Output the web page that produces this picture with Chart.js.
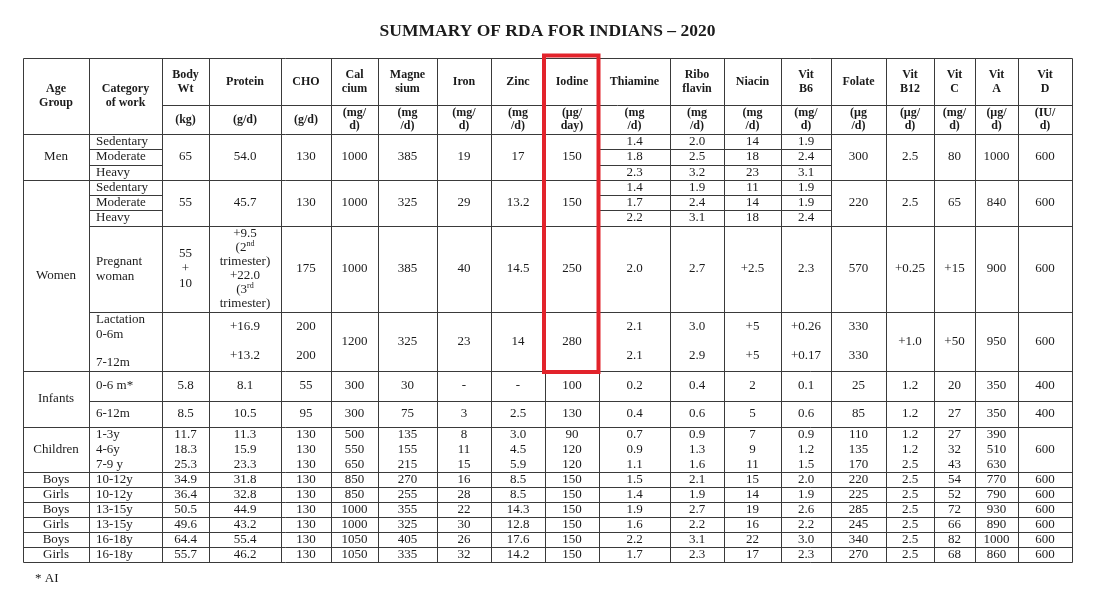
<!DOCTYPE html>
<html>
<head>
<meta charset="utf-8">
<script src="https://cdn.jsdelivr.net/npm/chart.js@4.4.0/dist/chart.umd.min.js"></script>
<style>
  html, body { margin: 0; background: #fff; }
  canvas { display: block; }
</style>
</head>
<body>
<canvas id="rda" width="1097" height="601"></canvas>
<script>
// table text
const chartTitle = "SUMMARY OF RDA FOR INDIANS – 2020";
const footNote = "* AI";
const headCorner = ["Age\nGroup", "Category\nof work"];
const nutrients = ["Body\nWt", "Protein", "CHO", "Cal\ncium", "Magne\nsium", "Iron", "Zinc", "Iodine",
  "Thiamine", "Ribo\nflavin", "Niacin", "Vit\nB6", "Folate", "Vit\nB12", "Vit\nC", "Vit\nA", "Vit\nD"];
const units = ["(kg)", "(g/d)", "(g/d)", "(mg/\nd)", "(mg\n/d)", "(mg/\nd)", "(mg\n/d)", "(µg/\nday)",
  "(mg\n/d)", "(mg\n/d)", "(mg\n/d)", "(mg/\nd)", "(µg\n/d)", "(µg/\nd)", "(mg/\nd)", "(µg/\nd)", "(IU/\nd)"];

const ageGroups = ["Men", "Women", "Infants", "Children", "Boys", "Girls", "Boys", "Girls", "Boys", "Girls"];
const ageGroupSpans = [1, 3, 2, 1, 1, 1, 1, 1, 1, 1];

const workLevels = ["Sedentary", "Moderate", "Heavy"];
const childAges = ["1-3y", "4-6y", "7-9 y"];

// one entry per nutrient; a list means the cell is split into sub rows
const men = ["65", "54.0", "130", "1000", "385", "19", "17", "150",
  ["1.4", "1.8", "2.3"], ["2.0", "2.5", "3.2"], ["14", "18", "23"], ["1.9", "2.4", "3.1"],
  "300", "2.5", "80", "1000", "600"];
const women = ["55", "45.7", "130", "1000", "325", "29", "13.2", "150",
  ["1.4", "1.7", "2.2"], ["1.9", "2.4", "3.1"], ["11", "14", "18"], ["1.9", "1.9", "2.4"],
  "220", "2.5", "65", "840", "600"];
const pregnant = ["55\n+\n10", "+9.5\n(2^nd\ntrimester)\n+22.0\n(3^rd\ntrimester)", "175", "1000", "385", "40", "14.5", "250",
  "2.0", "2.7", "+2.5", "2.3", "570", "+0.25", "+15", "900", "600"];
const lactation = ["", ["+16.9", "+13.2"], ["200", "200"], "1200", "325", "23", "14", "280",
  ["2.1", "2.1"], ["3.0", "2.9"], ["+5", "+5"], ["+0.26", "+0.17"], ["330", "330"], "+1.0", "+50", "950", "600"];
const infants0to6 = ["5.8", "8.1", "55", "300", "30", "-", "-", "100", "0.2", "0.4", "2", "0.1", "25", "1.2", "20", "350", "400"];
const infants6to12 = ["8.5", "10.5", "95", "300", "75", "3", "2.5", "130", "0.4", "0.6", "5", "0.6", "85", "1.2", "27", "350", "400"];
const children = [["11.7", "18.3", "25.3"], ["11.3", "15.9", "23.3"], ["130", "130", "130"], ["500", "550", "650"],
  ["135", "155", "215"], ["8", "11", "15"], ["3.0", "4.5", "5.9"], ["90", "120", "120"], ["0.7", "0.9", "1.1"],
  ["0.9", "1.3", "1.6"], ["7", "9", "11"], ["0.9", "1.2", "1.5"], ["110", "135", "170"], ["1.2", "1.2", "2.5"],
  ["27", "32", "43"], ["390", "510", "630"], "600"];
const boys10to12 = ["34.9", "31.8", "130", "850", "270", "16", "8.5", "150", "1.5", "2.1", "15", "2.0", "220", "2.5", "54", "770", "600"];
const girls10to12 = ["36.4", "32.8", "130", "850", "255", "28", "8.5", "150", "1.4", "1.9", "14", "1.9", "225", "2.5", "52", "790", "600"];
const boys13to15 = ["50.5", "44.9", "130", "1000", "355", "22", "14.3", "150", "1.9", "2.7", "19", "2.6", "285", "2.5", "72", "930", "600"];
const girls13to15 = ["49.6", "43.2", "130", "1000", "325", "30", "12.8", "150", "1.6", "2.2", "16", "2.2", "245", "2.5", "66", "890", "600"];
const boys16to18 = ["64.4", "55.4", "130", "1050", "405", "26", "17.6", "150", "2.2", "3.1", "22", "3.0", "340", "2.5", "82", "1000", "600"];
const girls16to18 = ["55.7", "46.2", "130", "1050", "335", "32", "14.2", "150", "1.7", "2.3", "17", "2.3", "270", "2.5", "68", "860", "600"];

const bodyRows = [
  { cat: workLevels, vals: men, ruled: true },
  { cat: workLevels, vals: women, ruled: true },
  { cat: "Pregnant\nwoman", vals: pregnant },
  { cat: "Lactation\n0-6m\n\n7-12m", vals: lactation },
  { cat: "0-6 m*", vals: infants0to6 },
  { cat: "6-12m", vals: infants6to12 },
  { cat: childAges, vals: children },
  { cat: "10-12y", vals: boys10to12 },
  { cat: "10-12y", vals: girls10to12 },
  { cat: "13-15y", vals: boys13to15 },
  { cat: "13-15y", vals: girls13to15 },
  { cat: "16-18y", vals: boys16to18 },
  { cat: "16-18y", vals: girls16to18 }
];

// layout (table units)
const colWidths = [66, 73, 47, 72, 50, 47, 59, 54, 54, 54, 71, 54, 57, 50, 55, 48, 41, 43, 54];
const rowHeights = [47, 29, 46, 45.5, 86.5, 58.5, 30.5, 26, 45, 15, 15, 15, 15, 15, 15];
const FONT = '"Liberation Serif", "Times New Roman", serif';
const INK = "#1b1b1b";

function cumulative(arr) {
  const out = [0];
  arr.forEach(v => out.push(out[out.length - 1] + v));
  return out;
}
const colEdges = cumulative(colWidths);
const rowEdges = cumulative(rowHeights);
const tableW = colEdges[colEdges.length - 1];
const tableH = rowEdges[rowEdges.length - 1];

const cells = [];
function addCell(text, x0, x1, y0, y1, o) {
  if (Array.isArray(text)) {
    const h = (y1 - y0) / text.length;
    text.forEach((t, i) => addCell(t, x0, x1, y0 + i * h, y0 + (i + 1) * h, o));
    return;
  }
  if (text === "") return;
  const lines = text.split("\n");
  cells.push({
    x: o.left ? x0 + 7 : (x0 + x1) / 2,
    y: (y0 + y1) / 2,
    lines,
    lh: o.lh || Math.min(15, (y1 - y0 - 2) / lines.length),
    bold: !!o.bold,
    left: !!o.left,
    size: o.bold ? 12 : 13
  });
}

addCell(headCorner[0], colEdges[0], colEdges[1], rowEdges[0], rowEdges[2], { bold: true, lh: 14 });
addCell(headCorner[1], colEdges[1], colEdges[2], rowEdges[0], rowEdges[2], { bold: true, lh: 14 });
nutrients.forEach((n, i) => {
  addCell(n, colEdges[i + 2], colEdges[i + 3], rowEdges[0], rowEdges[1], { bold: true, lh: 14 });
  addCell(units[i], colEdges[i + 2], colEdges[i + 3], rowEdges[1], rowEdges[2], { bold: true, lh: 13 });
});

let gr = 2;
ageGroups.forEach((g, i) => {
  addCell(g, colEdges[0], colEdges[1], rowEdges[gr], rowEdges[gr + ageGroupSpans[i]], {});
  gr += ageGroupSpans[i];
});

bodyRows.forEach((row, i) => {
  const r = i + 2;
  addCell(row.cat, colEdges[1], colEdges[2], rowEdges[r], rowEdges[r + 1], { left: true });
  row.vals.forEach((v, j) => addCell(v, colEdges[j + 2], colEdges[j + 3], rowEdges[r], rowEdges[r + 1], {}));
});

function drawRich(ctx, s, x, y, left, size, bold) {
  const [main, sup] = s.split("^");
  const f = sz => (bold ? "bold " : "") + sz + "px " + FONT;
  ctx.font = f(size);
  const w1 = ctx.measureText(main).width;
  let w2 = 0;
  if (sup) {
    ctx.font = f(size * 0.62);
    w2 = ctx.measureText(sup).width;
  }
  const x0 = left ? x : x - (w1 + w2) / 2;
  ctx.font = f(size);
  ctx.fillText(main, x0, y);
  if (sup) {
    ctx.font = f(size * 0.62);
    ctx.fillText(sup, x0 + w1, y - size * 0.32);
  }
}

// grid lines of the table
const tableLines = {
  id: "tableLines",
  beforeDatasetsDraw(chart) {
    const { ctx, scales: { x, y } } = chart;
    const px = v => Math.round(x.getPixelForValue(v)) + 0.5;
    const py = v => Math.round(y.getPixelForValue(v)) + 0.5;
    const seg = (x0, y0, x1, y1) => { ctx.moveTo(px(x0), py(y0)); ctx.lineTo(px(x1), py(y1)); };
    ctx.save();
    ctx.strokeStyle = "#3a3a3a";
    ctx.lineWidth = 1;
    ctx.beginPath();
    colEdges.forEach(cx => seg(cx, 0, cx, tableH));
    seg(0, 0, tableW, 0);
    seg(colEdges[2], rowEdges[1], tableW, rowEdges[1]);
    seg(0, rowEdges[2], tableW, rowEdges[2]);

    const groupEnds = new Set();
    let r = 2;
    ageGroupSpans.forEach(s => { r += s; groupEnds.add(r); });

    bodyRows.forEach((row, i) => {
      const bottom = i + 3;
      seg(groupEnds.has(bottom) ? 0 : colEdges[1], rowEdges[bottom], tableW, rowEdges[bottom]);
      if (!row.ruled) return;
      const top = rowEdges[i + 2], bot = rowEdges[i + 3];
      [row.cat, ...row.vals].forEach((v, j) => {
        if (!Array.isArray(v)) return;
        const h = (bot - top) / v.length;
        for (let k = 1; k < v.length; k++) seg(colEdges[j + 1], top + k * h, colEdges[j + 2], top + k * h);
      });
    });
    ctx.stroke();
    ctx.restore();
  }
};

// cell texts, drawn at the scatter points
const cellText = {
  id: "cellText",
  afterDatasetsDraw(chart) {
    const { ctx, scales: { y } } = chart;
    const unit = Math.abs(y.getPixelForValue(1) - y.getPixelForValue(0));
    const meta = chart.getDatasetMeta(0);
    ctx.save();
    ctx.fillStyle = INK;
    ctx.textBaseline = "middle";
    ctx.textAlign = "left";
    meta.data.forEach((el, i) => {
      const c = cells[i];
      const n = c.lines.length;
      c.lines.forEach((line, k) => {
        if (!line) return;
        const ly = el.y + (k - (n - 1) / 2) * c.lh * unit;
        drawRich(ctx, line, el.x, ly, c.left, c.size, c.bold);
      });
    });

    // red box round the iodine column
    const { x } = chart.scales;
    const bx0 = x.getPixelForValue(colEdges[9]) - 1;
    const bx1 = x.getPixelForValue(colEdges[10]) - 0.5;
    const by0 = y.getPixelForValue(0) - 2.5;
    const by1 = y.getPixelForValue(rowEdges[6]) + 1.5;
    ctx.strokeStyle = "#e2232b";
    ctx.lineWidth = 4;
    ctx.strokeRect(bx0, by0, bx1 - bx0, by1 - by0);

    ctx.font = "13px " + FONT;
    ctx.fillStyle = INK;
    ctx.fillText(footNote, chart.chartArea.left + 12, chart.chartArea.bottom + 17);
    ctx.restore();
  }
};

new Chart(document.getElementById("rda"), {
  type: "scatter",
  data: {
    datasets: [{ data: cells, pointRadius: 0, pointHoverRadius: 0 }]
  },
  options: {
    responsive: false,
    animation: false,
    events: [],
    layout: { padding: { left: 23, right: 25, top: 0, bottom: 39 } },
    plugins: {
      legend: { display: false },
      tooltip: { enabled: false },
      title: {
        display: true,
        text: chartTitle,
        color: INK,
        font: { family: FONT, size: 17.5, weight: "bold" },
        padding: { top: 20.5, bottom: 16.5 }
      }
    },
    scales: {
      x: { type: "linear", display: false, min: 0, max: tableW },
      y: { type: "linear", display: false, min: 0, max: tableH, reverse: true }
    }
  },
  plugins: [tableLines, cellText]
});
</script>
</body>
</html>
